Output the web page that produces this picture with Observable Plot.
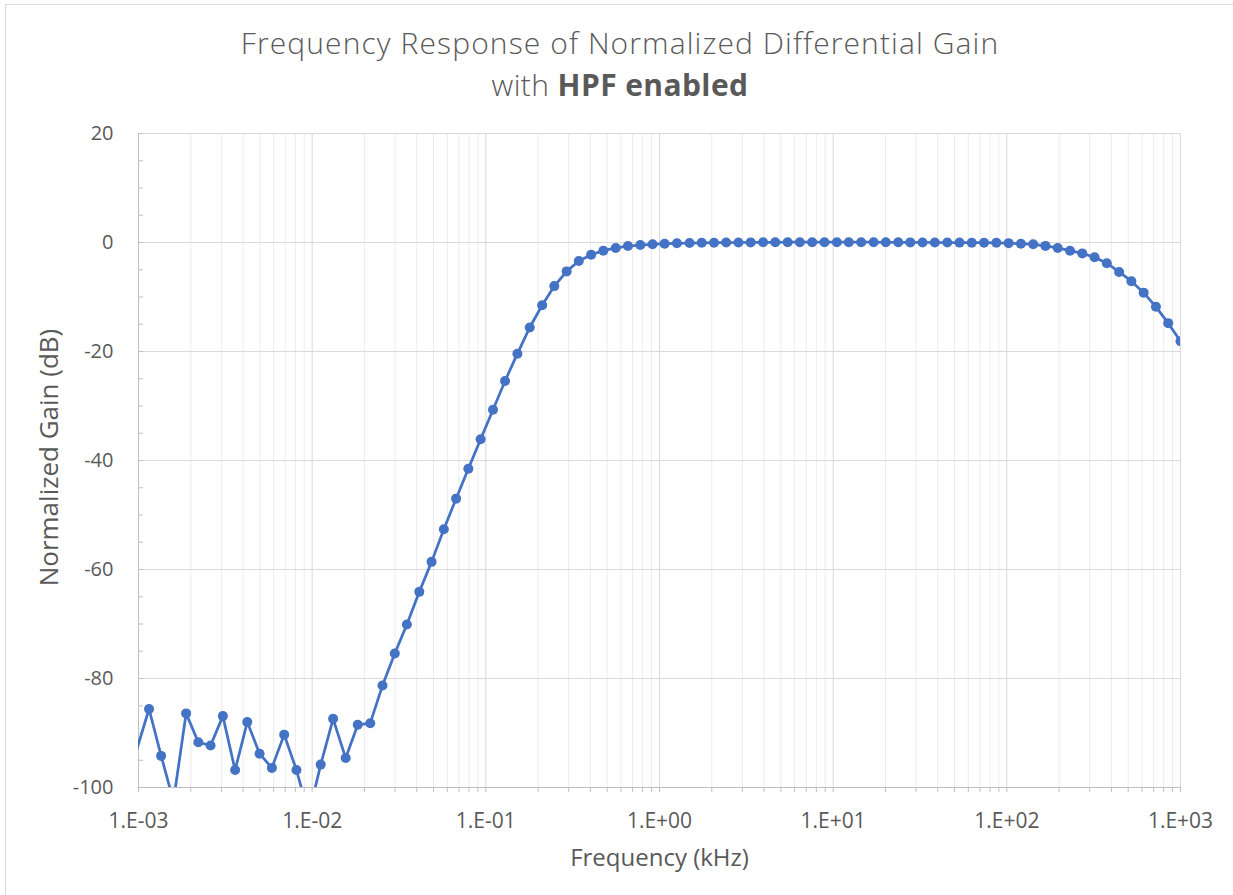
<!DOCTYPE html>
<html>
<head>
<meta charset="utf-8">
<script src="https://cdn.jsdelivr.net/npm/d3@7"></script>
<script src="https://cdn.jsdelivr.net/npm/@observablehq/plot@0.6"></script>
<style>
  html, body { margin: 0; padding: 0; background: #fff; overflow: hidden; }
  #wrap { position: relative; width: 1233px; height: 895px; }
  #frame { position: absolute; left: 5px; top: 4px; width: 1300px; height: 1000px; border: 1px solid #d9d9d9; pointer-events: none; }
  #title { height: 110px; box-sizing: border-box; padding-top: 22px; padding-left: 7px; text-align: center;
           font-family: "Open Sans", sans-serif; font-weight: 300; font-size: 30px;
           line-height: 42px; color: #595959; }
  #title .l1 { letter-spacing: 1.1px; }
  #title .l2 { letter-spacing: 0.4px; }
  #title b { font-weight: 700; }
  svg { display: block; }
</style>
</head>
<body>
<div id="wrap">
  <div id="title"><span class="l1">Frequency Response of Normalized Differential Gain</span><br><span class="l2">with <b>HPF enabled</b></span></div>
  <div id="chart"></div>
  <div id="frame"></div>
</div>
<script>
// Frequency (kHz) of each measured point
const freq = [0.000978, 0.00115, 0.00135, 0.00159, 0.00188, 0.00221, 0.00260, 0.00306, 0.00360, 0.00423,
  0.00498, 0.00586, 0.00690, 0.00812, 0.00956, 0.0112, 0.0132, 0.0156, 0.0183, 0.0216,
  0.0254, 0.0299, 0.0351, 0.0414, 0.0487, 0.0573, 0.0674, 0.0793, 0.0933, 0.110,
  0.129, 0.152, 0.179, 0.211, 0.248, 0.292, 0.343, 0.404, 0.475, 0.560,
  0.658, 0.775, 0.912, 1.07, 1.26, 1.49, 1.75, 2.06, 2.42, 2.85,
  3.35, 3.95, 4.64, 5.47, 6.43, 7.57, 8.91, 10.5, 12.3, 14.5,
  17.1, 20.1, 23.7, 27.8, 32.7, 38.5, 45.4, 53.4, 62.8, 73.9,
  87.0, 102.4, 120.5, 141.8, 166.9, 196.3, 231.1, 271.9, 320.0, 376.5,
  443.1, 521.4, 613.6, 722.1, 849.7, 1000];

// Normalized gain (dB)
const gain = [-93.0, -85.6, -94.2, -102.5, -86.4, -91.7, -92.3, -86.9, -96.8, -88.0,
  -93.8, -96.4, -90.3, -96.8, -105, -95.8, -87.4, -94.6, -88.5, -88.2,
  -81.3, -75.4, -70.1, -64.1, -58.6, -52.6, -47.0, -41.5, -36.1, -30.7,
  -25.4, -20.4, -15.6, -11.5, -8.0, -5.3, -3.4, -2.25, -1.5, -1.0,
  -0.65, -0.46, -0.33, -0.22, -0.15, -0.1, -0.06, -0.03, -0.01, 0.0,
  0.02, 0.03, 0.04, 0.05, 0.05, 0.06, 0.06, 0.06, 0.06, 0.05,
  0.05, 0.04, 0.03, 0.02, 0.01, 0.0, -0.01, -0.02, -0.03, -0.04,
  -0.06, -0.12, -0.22, -0.33, -0.62, -1.0, -1.5, -2.0, -2.7, -3.8,
  -5.4, -7.1, -9.2, -11.8, -14.8, -18.1];

const xMajor = [0.001, 0.01, 0.1, 1, 10, 100, 1000];
const xTickLabels = ["1.E-03", "1.E-02", "1.E-01", "1.E+00", "1.E+01", "1.E+02", "1.E+03"];
const yMajor = [-100, -80, -60, -40, -20, 0, 20];
const yTickLabels = ["-100", "-80", "-60", "-40", "-20", "0", "20"];
const minorMultipliers = [2, 3, 4, 5, 6, 7, 8, 9];
const yMinorStep = 5;

const xMinor = xMajor.slice(0, -1).flatMap(d => minorMultipliers.map(m => d * m));
const yMinor = d3.range(yMajor[0], yMajor[yMajor.length - 1] + 1, yMinorStep);
const data = freq.map((f, i) => ({f, g: gain[i]}));
const xDomain = [xMajor[0], xMajor[xMajor.length - 1]];
const yDomain = [yMajor[0], yMajor[yMajor.length - 1]];
// markers are only shown for points inside the plot area
const shown = data.filter(d => d.f >= xDomain[0] && d.f <= xDomain[1] && d.g >= yDomain[0] && d.g <= yDomain[1]);

const blue = "#4472C4";
const textColor = "#595959";

const chart = Plot.plot({
  width: 1233,
  height: 785,
  marginLeft: 138,
  marginRight: 53,
  marginTop: 23,
  marginBottom: 108,
  x: {type: "log", domain: xDomain},
  y: {domain: yDomain},
  style: {fontFamily: "'Open Sans', sans-serif", fontSize: "20px", color: textColor, background: "white"},
  marks: [
    Plot.ruleX(xMinor, {stroke: "#ececec", strokeWidth: 1}),
    Plot.ruleX(xMajor.slice(1), {stroke: "#d9d9d9", strokeWidth: 1}),
    Plot.ruleY(yMajor.slice(1), {stroke: "#d9d9d9", strokeWidth: 1}),
    Plot.ruleX([xMajor[0]], {stroke: "#bfbfbf", strokeWidth: 1}),
    Plot.ruleY([yMajor[0]], {stroke: "#bfbfbf", strokeWidth: 1}),
    Plot.axisY({ticks: yMinor, tickSize: 5, dx: 5, tickFormat: () => "", stroke: "#bfbfbf", label: null}),
    Plot.axisY({ticks: yMajor, tickSize: 0, tickPadding: 25, tickFormat: d => yTickLabels[yMajor.indexOf(d)], label: null, fontSize: 20}),
    Plot.axisX({ticks: [...xMajor, ...xMinor], tickSize: 5, tickFormat: () => "", stroke: "#bfbfbf", label: null}),
    Plot.axisX({ticks: xMajor, tickSize: 0, tickPadding: 26, tickFormat: d => xTickLabels[xMajor.indexOf(d)], label: null, fontSize: 21, letterSpacing: 0.4}),
    Plot.line(data, {x: "f", y: "g", stroke: blue, strokeWidth: 2.75, clip: true}),
    Plot.dot(shown, {x: "f", y: "g", r: 5, fill: blue, stroke: null, clip: true}),
    Plot.text(["Frequency (kHz)"], {frameAnchor: "bottom", lineAnchor: "middle", textAnchor: "middle", dy: 71, text: d => d, fontSize: 24, letterSpacing: 0.6, fill: textColor}),
    Plot.text(["Normalized Gain (dB)"], {frameAnchor: "left", lineAnchor: "middle", textAnchor: "middle", dx: -89, dy: -3, rotate: -90, text: d => d, fontSize: 26, letterSpacing: 1.6, fill: textColor})
  ]
});
document.getElementById("chart").appendChild(chart);
</script>
</body>
</html>
